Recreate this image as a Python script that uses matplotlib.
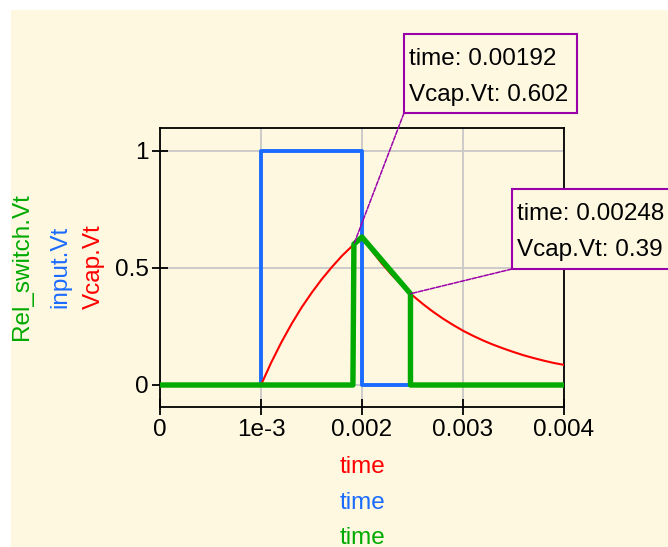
import matplotlib
matplotlib.use("Agg")
import matplotlib.pyplot as plt
from matplotlib.patches import Rectangle

plt.rcParams['font.family'] = ['Liberation Sans', 'DejaVu Sans']

# input.Vt (pulse)
t_in = [0.0, 0.001, 0.001, 0.002, 0.002, 0.004]
v_in = [0.0, 0.0, 1.0, 1.0, 0.0, 0.0]

# Vcap.Vt (charge / discharge)
t_cap = [0.0, 0.0010, 0.0011, 0.0012, 0.0013, 0.0014, 0.0015, 0.0016, 0.0017,
         0.0018, 0.0019, 0.0020, 0.0021, 0.0022, 0.0023, 0.0024, 0.0025,
         0.0026, 0.0027, 0.0028, 0.0029, 0.0030, 0.0031, 0.0032, 0.0033,
         0.0034, 0.0035, 0.0036, 0.0037, 0.0038, 0.0039, 0.0040]
v_cap = [0.0, 0.0, 0.095, 0.181, 0.259, 0.330, 0.393, 0.451, 0.503,
         0.551, 0.593, 0.632, 0.572, 0.517, 0.468, 0.424, 0.383,
         0.347, 0.314, 0.284, 0.257, 0.232, 0.210, 0.190, 0.172,
         0.156, 0.141, 0.127, 0.115, 0.104, 0.094, 0.086]

# Rel_switch.Vt
t_sw = [0.0, 0.00191, 0.00192, 0.0020, 0.00248, 0.00248, 0.004]
v_sw = [0.0, 0.0, 0.602, 0.632, 0.39, 0.0, 0.0]

# markers
mark_t = [0.00192, 0.00248]
mark_v = [0.602, 0.39]
xticks = [0, 0.001, 0.002, 0.003, 0.004]
xticklabels = ['0', '1e-3', '0.002', '0.003', '0.004']
yticks = [0, 0.5, 1]
yticklabels = ['0', '0.5', '1']

cream = '#fef8e1'
red = '#ff0000'
blue = '#1a6bff'
green = '#00aa00'
purple = '#9900aa'

W, H = 668, 547
fig = plt.figure(figsize=(W / 100, H / 100), dpi=100)
fig.patch.set_facecolor('white')
fig.patches.append(Rectangle((11 / W, 0), 1, 1 - 10 / H, transform=fig.transFigure,
                             facecolor=cream, edgecolor='none', zorder=-10))

ax = fig.add_axes([160 / W, 1 - 407 / H, 404 / W, 279 / H])
ax.set_facecolor(cream)
ax.set_xlim(0, 0.004)
ax.set_ylim(-0.094, 1.098)
ax.grid(True, color='#c8c8c8', linewidth=1.3)
ax.set_axisbelow(True)

ax.plot(t_in, v_in, color=blue, linewidth=2.8, zorder=3)
ax.plot(t_cap, v_cap, color=red, linewidth=1.5, zorder=4)
ax.plot(t_sw, v_sw, color=green, linewidth=3.9, zorder=5)

ax.set_xticks(xticks)
ax.set_xticklabels(xticklabels)
ax.set_yticks(yticks)
ax.set_yticklabels(yticklabels)
ax.tick_params(direction='inout', length=12, width=1.3, labelsize=17.5, colors='black')
ax.tick_params(axis='x', pad=3)
ax.tick_params(axis='y', pad=2)
for s in ax.spines.values():
    s.set_linewidth(1.3)

# marker boxes (pixel positions: left, top, right, bottom)
texts = [('time: 0.00192', 'Vcap.Vt: 0.602'), ('time: 0.00248', 'Vcap.Vt: 0.39')]
boxes = [(404, 34, 577, 113), (512, 189, 700, 269)]
for t, v, (l1, l2), (x0, y0, x1, y1) in zip(mark_t, mark_v, texts, boxes):
    fig.patches.append(Rectangle((x0 / W, 1 - y1 / H), (x1 - x0) / W, (y1 - y0) / H,
                                 transform=fig.transFigure, facecolor=cream,
                                 edgecolor=purple, linewidth=1.5, zorder=10))
    fig.text((x0 + 5) / W, 1 - (y0 + 31) / H, l1, fontsize=17.5, va='baseline', zorder=11)
    fig.text((x0 + 5) / W, 1 - (y0 + 67) / H, l2, fontsize=17.5, va='baseline', zorder=11)
    ax.annotate('', xy=(t, v), xytext=(x0 / W, 1 - y1 / H), textcoords='figure fraction',
                arrowprops=dict(arrowstyle='-', color=purple, linewidth=1.1,
                                linestyle=(0, (3, 1)), shrinkA=0, shrinkB=0),
                annotation_clip=False, zorder=9)

# axis labels
for y, c in zip([467, 503, 538], [red, blue, green]):
    fig.text(362 / W, 1 - y / H, 'time', color=c, fontsize=17.5, ha='center', va='center')
for x, lab, c in zip([22, 60, 94], ['Rel_switch.Vt', 'input.Vt', 'Vcap.Vt'], [green, blue, red]):
    fig.text(x / W, 1 - 267 / H, lab, color=c, fontsize=17.5, ha='center', va='center', rotation=90)

fig.savefig('out.png', dpi=100, facecolor=fig.get_facecolor())
